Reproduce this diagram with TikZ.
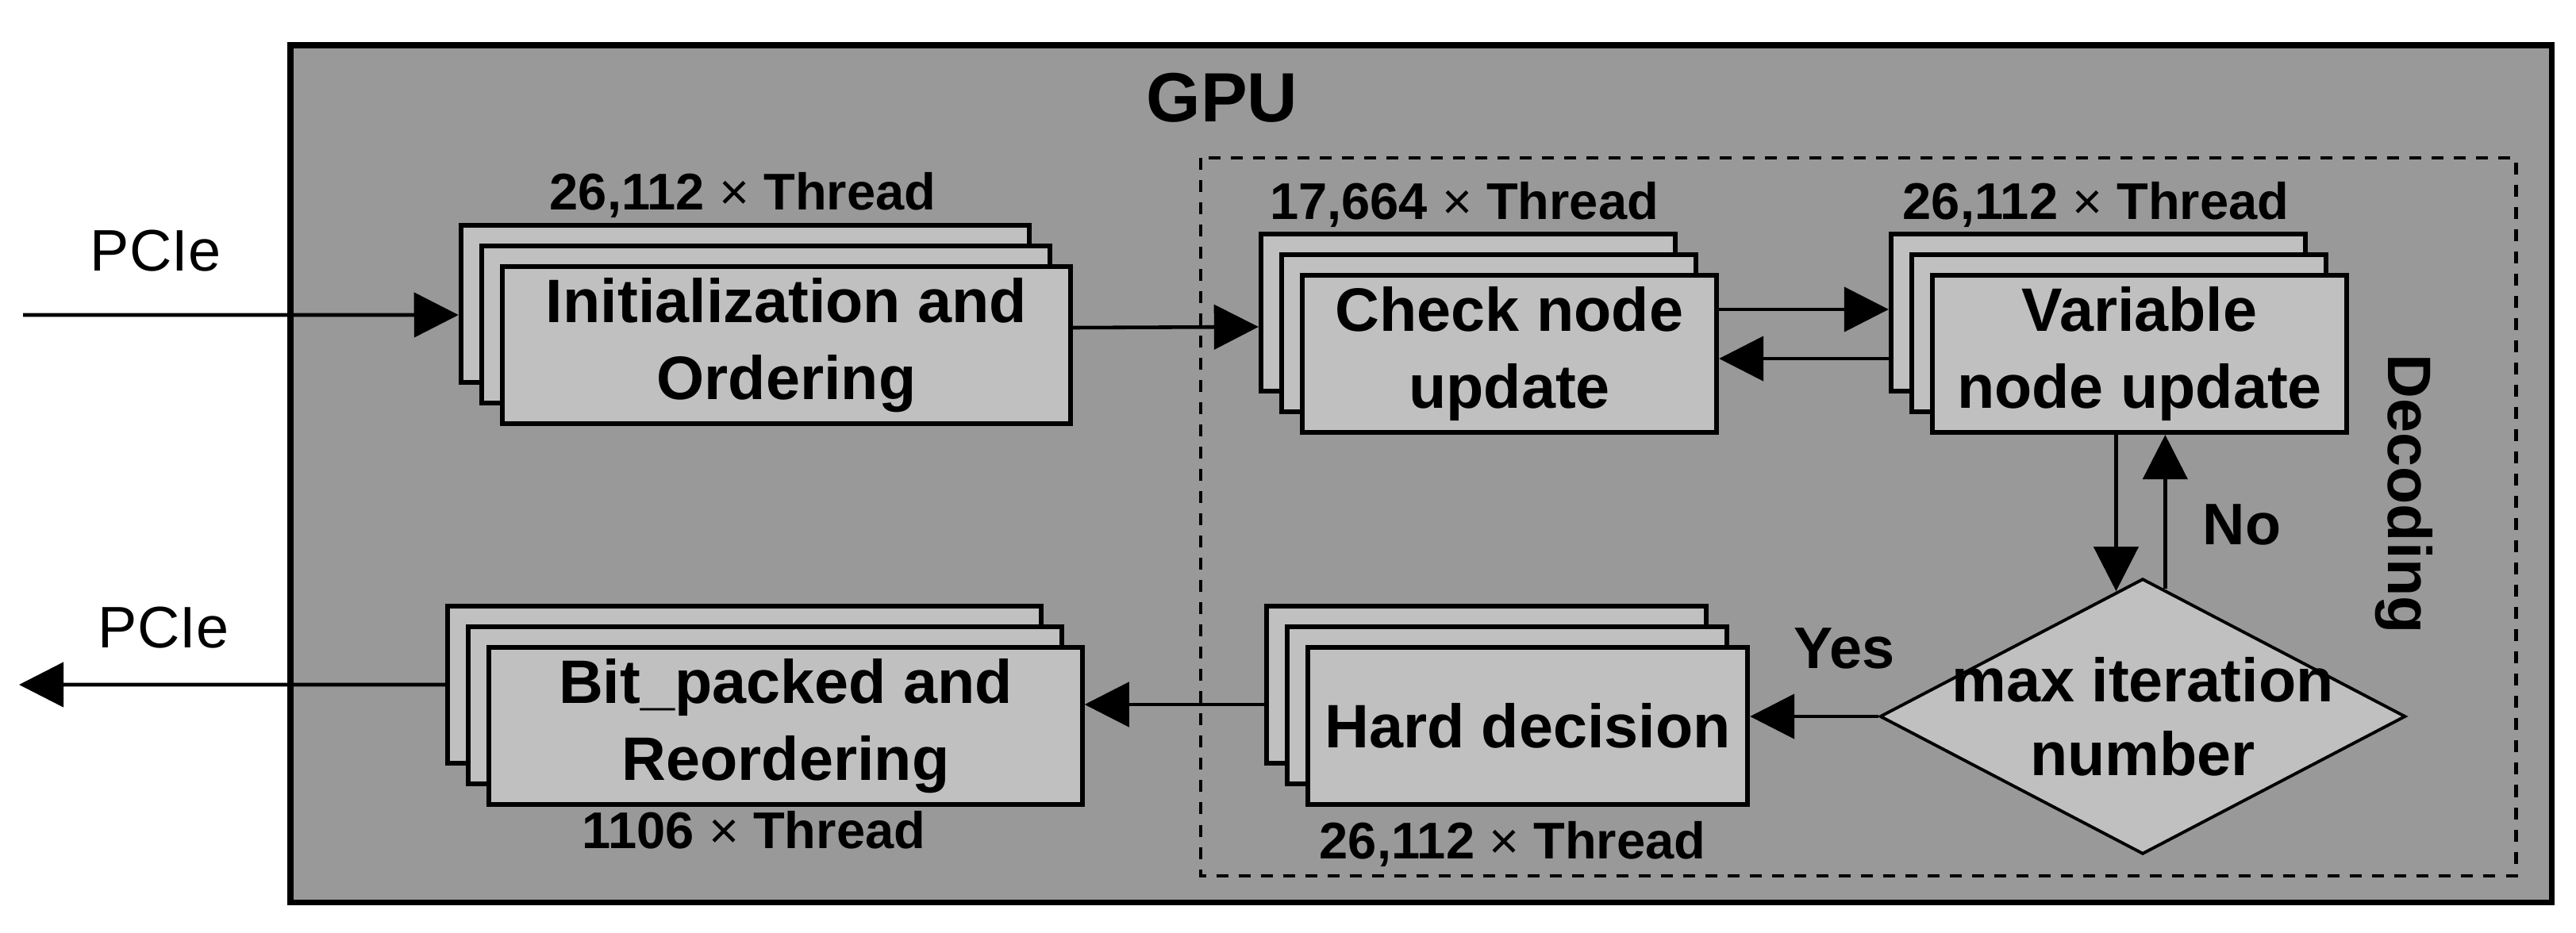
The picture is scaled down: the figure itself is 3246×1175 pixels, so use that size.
\documentclass[tikz,border=0pt]{standalone}
\usepackage{fontspec}
\setmainfont{Liberation Sans}
\usepackage{xcolor}
\usetikzlibrary{arrows.meta,shapes.geometric,shadows}
\definecolor{gpugray}{RGB}{153,153,153}
\definecolor{boxgray}{RGB}{192,192,192}

\begin{document}
\begin{tikzpicture}[x=0.01cm, y=-0.01cm,
    stage/.style={draw, rectangle, line width=1.7pt, fill=boxgray, minimum height=1.98cm,
      align=center, font=\fontsize{22}{27.5}\selectfont\bfseries,
      general shadow={shadow xshift=-0.52cm, shadow yshift=0.52cm, draw, line width=1.7pt, fill=boxgray},
      general shadow={shadow xshift=-0.26cm, shadow yshift=0.26cm, draw, line width=1.7pt, fill=boxgray}},
    thr/.style={anchor=base, font=\fontsize{18.5}{22}\selectfont\bfseries},
    yn/.style={anchor=base, font=\fontsize{21}{25}\selectfont\bfseries},
    arr/.style={line width=1.3pt, -{Triangle[length=0.56cm, width=0.56cm]}}]
    \useasboundingbox (0,0) rectangle (3246,1175);
    \draw[line width=2pt, fill=gpugray] (366,57) rectangle (3215,1137);
    \draw[line width=1.4pt, dash pattern=on 0.15cm off 0.13cm] (1513,199) rectangle (3170,1104);

    \node[anchor=base, font=\fontsize{25}{30}\selectfont\bfseries] (gpu) at (1540,153) {GPU};
    \node[anchor=base, font=\fontsize{21}{25}\selectfont] (pcie1) at (196,341) {PCIe};
    \node[anchor=base, font=\fontsize{21}{25}\selectfont] (pcie2) at (206,816) {PCIe};
    \node[rotate=-90, anchor=base, font=\fontsize{22}{26}\selectfont\bfseries] (decod) at (3009,623) {Decoding};

    \node[stage, minimum width=7.16cm] (init) at (991,435) {Initialization and\\Ordering};
    \node[stage, minimum width=5.22cm] (check) at (1902,446) {Check node\\update};
    \node[stage, minimum width=5.22cm] (var) at (2696,446) {Variable\\node update};
    \node[stage, minimum width=5.54cm] (hard) at (1925,915) {Hard decision};
    \node[stage, minimum width=7.47cm] (bit) at (990,915) {Bit\_packed and\\Reordering};
    \node[draw, diamond, line width=1.1pt, fill=boxgray, minimum width=6.62cm, minimum height=3.47cm, inner sep=0pt] (maxiter) at (2700,903) {};
    \node[align=center, font=\fontsize{22}{26.5}\selectfont\bfseries] (maxlbl) at (maxiter) {max iteration\\number};

    \node[thr] (initthr) at (936,264) {26,112 {\mdseries ×} Thread};
    \node[thr] (checkthr) at (1845,276) {17,664 {\mdseries ×} Thread};
    \node[thr] (varthr) at (2641,276) {26,112 {\mdseries ×} Thread};
    \node[thr] (hardthr) at (1906,1082) {26,112 {\mdseries ×} Thread};
    \node[thr] (bitthr) at (950,1069) {1106 {\mdseries ×} Thread};
    \node[yn] (yes) at (2324,842) {Yes};
    \node[yn] (no) at (2825,686) {No};

    \coordinate (pcin) at (29,397);
    \coordinate (pcout) at (24,863);
    \draw[arr] (pcin) -- ([xshift=-0.52cm,yshift=0.38cm]init.west);
    \draw[arr] ([yshift=0.22cm]init.east) -- ([xshift=-0.52cm,yshift=0.34cm]check.west);
    \draw[arr] ([yshift=0.56cm]check.east) -- ([xshift=-0.52cm,yshift=0.56cm]var.west);
    \draw[arr] ([xshift=-0.52cm,yshift=-0.06cm]var.west) -- ([yshift=-0.06cm]check.east);
    \draw[arr] (var.south -| maxiter.102) -- (maxiter.102);
    \draw[arr] (maxiter.80) -- (maxiter.80 |- var.south);
    \draw[arr] (maxiter.west) -- (maxiter.west -| hard.east);
    \draw[arr] ([xshift=-0.52cm,yshift=0.27cm]hard.west) -- ([yshift=0.27cm]bit.east);
    \draw[arr] ([xshift=-0.52cm,yshift=0.52cm]bit.west) -- (pcout);
\end{tikzpicture}
\end{document}
